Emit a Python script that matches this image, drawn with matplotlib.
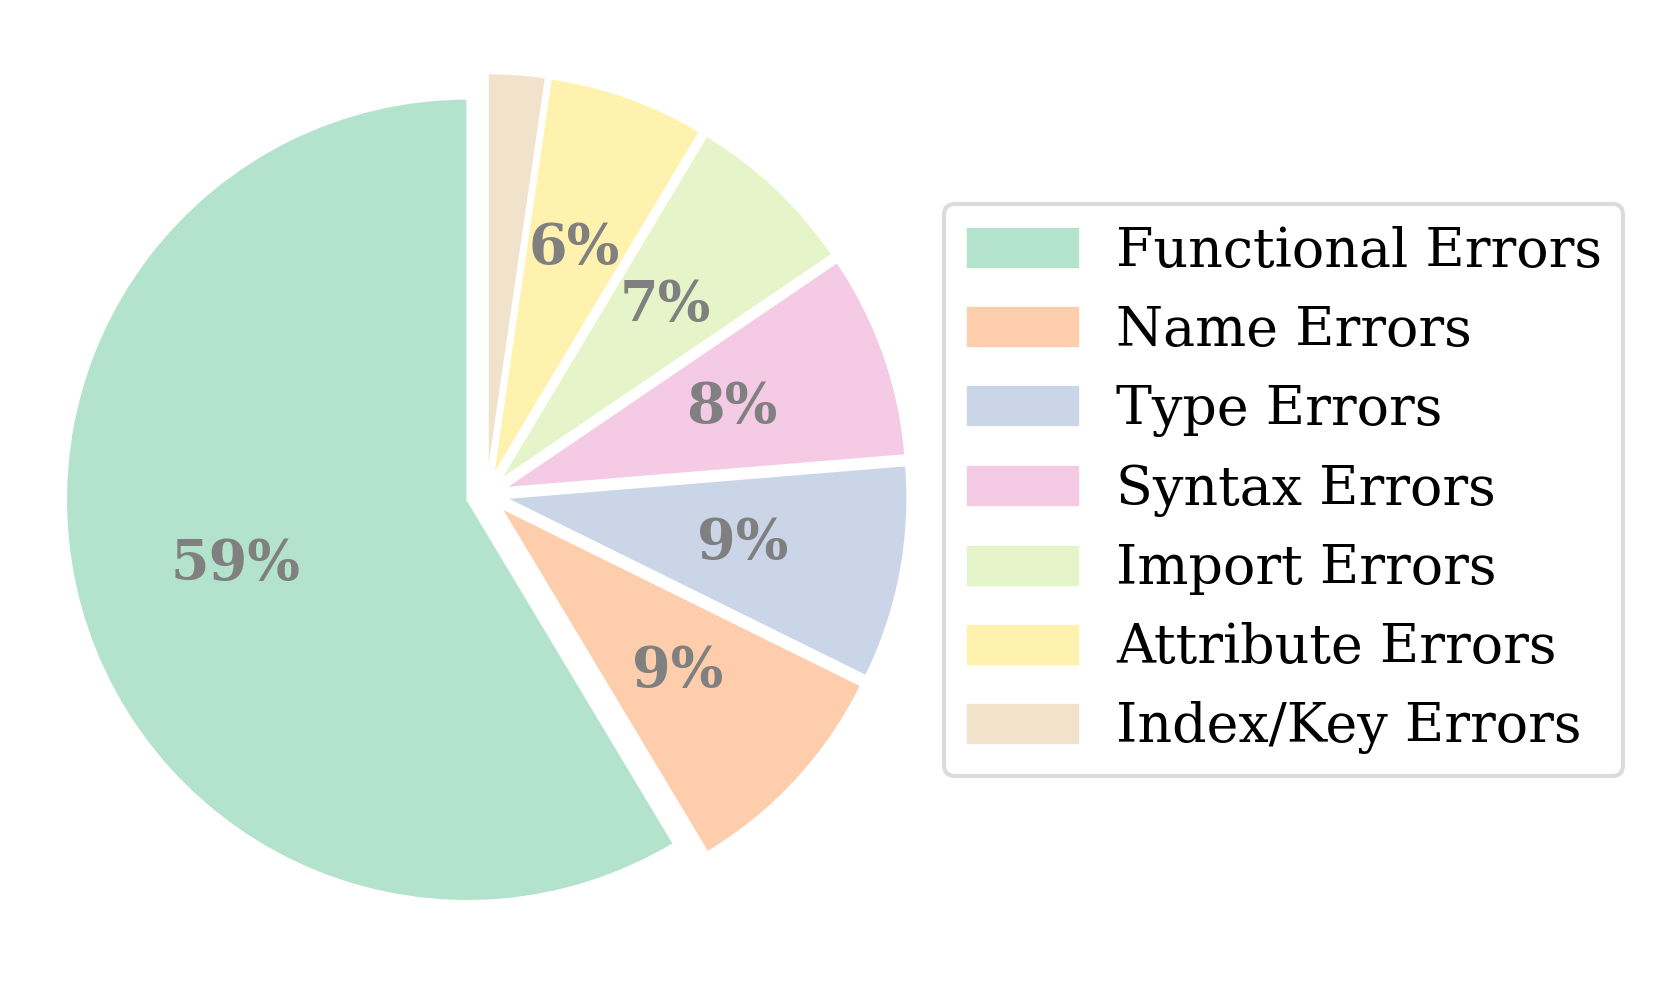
import matplotlib
matplotlib.use("Agg")
import matplotlib.pyplot as plt

plt.rcParams['font.family'] = ['DejaVu Serif']

# error categories and their share (%)
categories = ["Functional Errors", "Name Errors", "Type Errors", "Syntax Errors",
              "Import Errors", "Attribute Errors", "Index/Key Errors"]
shares = [58.6, 9.1, 8.6, 8.2, 6.9, 6.3, 2.3]
colors = ["#b3e2cd", "#fdcdac", "#cbd5e8", "#f4cae4", "#e6f5c9", "#fff2ae", "#f1e2cc"]


def pct_label(pct):
    # hide labels on tiny slices
    return f"{pct:.0f}%" if pct >= 3 else ""


fig = plt.figure(figsize=(8.295, 4.905), dpi=200)
ax = fig.add_axes([0.0032, 0.0054, 0.5801, 0.9811])

wedges, texts, autotexts = ax.pie(
    shares,
    colors=colors,
    startangle=90,
    explode=[0.05] * len(shares),
    autopct=pct_label,
    pctdistance=0.6,
    wedgeprops=dict(edgecolor="white", linewidth=0.6),
    textprops=dict(fontsize=20, fontweight="bold", color="#808080"),
)
ax.set_xlim(-1.2, 1.2)
ax.set_ylim(-1.2, 1.2)
ax.set_aspect("equal")

leg = fig.legend(wedges, categories, loc="center left",
                 bbox_to_anchor=(0.569, 0.5005), borderaxespad=0,
                 fontsize=19.4, frameon=True, fancybox=True,
                 handlelength=2.12, handleheight=0.82, handletextpad=0.67)
leg.get_frame().set_edgecolor("#d3d3d3")
leg.get_frame().set_linewidth(1.5)

fig.savefig("out.png", dpi=200)
